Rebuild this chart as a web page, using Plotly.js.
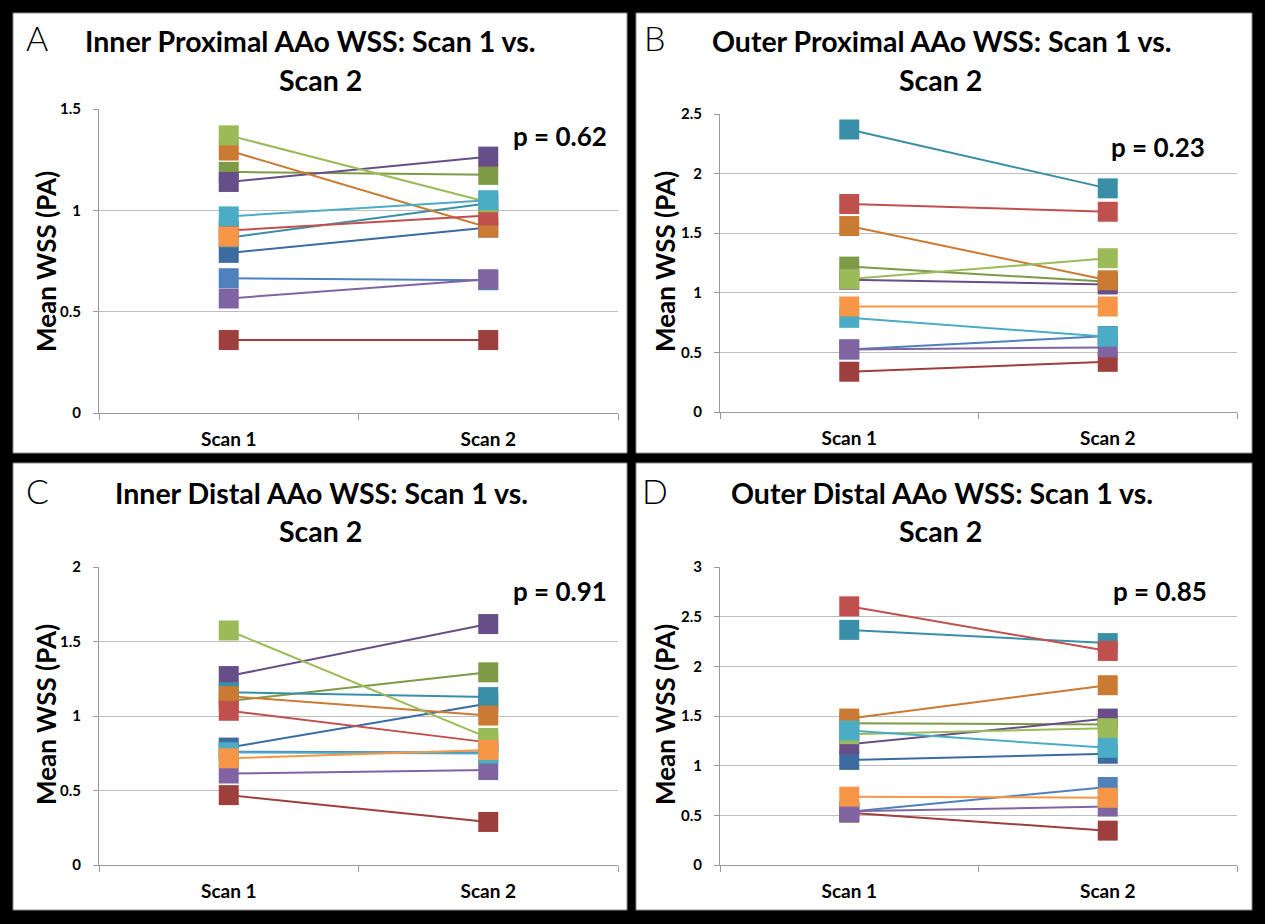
<!DOCTYPE html>
<html>
<head>
<meta charset="utf-8">
<script src="https://cdn.plot.ly/plotly-3.0.1.min.js"></script>
<style>
html,body{margin:0;padding:0;background:#000;}
#chart{width:1265px;height:924px;}
</style>
</head>
<body>
<div id="chart"></div>
<script>
// ---------- DATA ----------
const categories = ['Scan 1', 'Scan 2'];
const seriesNames = ['Series 1','Series 2','Series 3','Series 4','Series 5','Series 6',
                     'Series 7','Series 8','Series 9','Series 10','Series 11','Series 12'];

// Panel A: Inner Proximal AAo WSS
const innerProximalScan1 = [0.665, 0.90, 1.37, 0.565, 0.97, 0.87, 0.79, 0.36, 1.19, 1.14, 0.865, 1.295];
const innerProximalScan2 = [0.655, 0.975, 1.04, 0.66, 1.05, null, 0.915, 0.36, 1.175, 1.265, 1.035, 0.915];
// Panel B: Outer Proximal AAo WSS
const outerProximalScan1 = [0.525, 1.745, 1.115, 0.525, 0.79, 0.885, null, 0.338, 1.22, 1.11, 2.37, 1.56];
const outerProximalScan2 = [0.637, 1.68, 1.29, 0.542, 0.632, 0.885, null, 0.421, 1.093, 1.07, 1.876, 1.105];
// Panel C: Inner Distal AAo WSS
const innerDistalScan1 = [0.76, 1.035, 1.574, 0.614, 0.755, 0.716, 0.788, 0.469, 1.10, 1.268, 1.16, 1.133];
const innerDistalScan2 = [0.755, 0.823, 0.853, 0.637, 0.748, 0.772, 1.084, 0.289, 1.293, 1.617, 1.127, 1.003];
// Panel D: Outer Distal AAo WSS
const outerDistalScan1 = [0.537, 2.604, 1.317, 0.54, 1.353, 0.688, 1.058, 0.527, 1.427, 1.216, 2.367, 1.474];
const outerDistalScan2 = [0.785, 2.155, 1.377, 0.588, 1.18, 0.677, 1.12, 0.346, 1.414, 1.474, 2.234, 1.81];

const panelTitles = ['Inner Proximal AAo WSS: Scan 1 vs.', 'Outer Proximal AAo WSS: Scan 1 vs.',
                     'Inner Distal AAo WSS: Scan 1 vs.', 'Outer Distal AAo WSS: Scan 1 vs.'];
const panelLetters = ['A', 'B', 'C', 'D'];
const pValues = ['p = 0.62', 'p = 0.23', 'p = 0.91', 'p = 0.85'];
const yTickVals = [[0, 0.5, 1, 1.5], [0, 0.5, 1, 1.5, 2, 2.5], [0, 0.5, 1, 1.5, 2], [0, 0.5, 1, 1.5, 2, 2.5, 3]];
const yMax = [1.5, 2.5, 2, 3];

// ---------- STYLE ----------
const seriesColors = ['#4F81BD','#C0504D','#9BBB59','#8064A2','#4BACC6','#F79646',
                      '#3C6BA0','#9D3F3C','#7E9A47','#684E88','#398FA8','#CB7A34'];
const drawOrder = [6,7,8,9,10,11,0,1,2,3,4,5];
const FONT = 'Lato, "Open Sans", sans-serif';
const W = 1265, H = 924;
const px = x => x / W;
const py = y => 1 - y / H;

const panels = [
  {s1: innerProximalScan1, s2: innerProximalScan2, box: [13, 13, 627, 453], plot: [99, 109, 618, 413]},
  {s1: outerProximalScan1, s2: outerProximalScan2, box: [636, 13, 1252, 453], plot: [720, 114, 1237, 412]},
  {s1: innerDistalScan1, s2: innerDistalScan2, box: [13, 463, 627, 910], plot: [99, 567, 618, 865]},
  {s1: outerDistalScan1, s2: outerDistalScan2, box: [636, 463, 1252, 910], plot: [720, 567, 1237, 865]}
];
const titlePos = [[310, 41, 320, 80], [942, 41, 940, 80], [322, 493, 320, 531], [942, 493, 940, 531]];
const letterPos = [[37, 38], [655, 38], [37, 490], [655, 490]];
const pPos = [[560, 136], [1158, 147], [560, 591], [1160, 591]];
const yTitlePos = [[46, 262], [665, 262], [46, 715], [665, 715]];

const traces = [];
const layout = {
  width: W, height: H,
  margin: {l: 0, r: 0, t: 0, b: 0},
  paper_bgcolor: '#000000',
  plot_bgcolor: '#ffffff',
  showlegend: false,
  shapes: [], annotations: []
};

panels.forEach((p, i) => {
  const n = i + 1;
  const xa = n === 1 ? 'x' : 'x' + n;
  const ya = n === 1 ? 'y' : 'y' + n;
  drawOrder.forEach(k => {
    traces.push({
      type: 'scatter', mode: 'lines+markers',
      x: categories, y: [p.s1[k], p.s2[k]],
      name: seriesNames[k],
      xaxis: xa, yaxis: ya,
      line: {color: seriesColors[k], width: 2},
      marker: {symbol: 'square', size: 20, color: seriesColors[k], line: {width: 0}},
      hoverinfo: 'x+y+name'
    });
  });
  const xkey = n === 1 ? 'xaxis' : 'xaxis' + n;
  const ykey = n === 1 ? 'yaxis' : 'yaxis' + n;
  layout[xkey] = {
    domain: [px(p.plot[0]), px(p.plot[2])],
    anchor: ya, type: 'category', range: [-0.5, 1.5],
    tickson: 'boundaries', ticks: 'outside', ticklen: 6, tickcolor: '#9a9a9a',
    showline: true, linecolor: '#9a9a9a', linewidth: 1, showgrid: false, zeroline: false,
    ticklabelstandoff: 9,
    tickfont: {family: FONT, size: 19, color: '#000', weight: 'bold'}
  };
  layout[ykey] = {
    domain: [py(p.plot[3]), py(p.plot[1])],
    anchor: xa, range: [0, yMax[i]],
    tickvals: yTickVals[i], ticktext: yTickVals[i].map(v => String(v)),
    ticks: 'outside', ticklen: 5, tickcolor: '#9a9a9a',
    showline: true, linecolor: '#9a9a9a', linewidth: 1,
    showgrid: true, gridcolor: '#BDBDBD', gridwidth: 1, zeroline: false,
    ticklabelstandoff: 9,
    tickfont: {family: FONT, size: 15, color: '#000', weight: 'bold'}
  };
  layout.shapes.push({
    type: 'rect', xref: 'paper', yref: 'paper', layer: 'below',
    x0: px(p.box[0]), x1: px(p.box[2]), y0: py(p.box[3]), y1: py(p.box[1]),
    fillcolor: '#ffffff', line: {color: '#8c8c8c', width: 1}
  });
  const tp = titlePos[i];
  layout.annotations.push({
    xref: 'paper', yref: 'paper', x: px(tp[0]), y: py(tp[1]), xanchor: 'center', yanchor: 'middle',
    text: panelTitles[i], showarrow: false,
    font: {family: FONT, size: 28.5, color: '#000', weight: 'bold'}
  });
  layout.annotations.push({
    xref: 'paper', yref: 'paper', x: px(tp[2]), y: py(tp[3]), xanchor: 'center', yanchor: 'middle',
    text: categories[1], showarrow: false,
    font: {family: FONT, size: 28.5, color: '#000', weight: 'bold'}
  });
  layout.annotations.push({
    xref: 'paper', yref: 'paper', x: px(letterPos[i][0]), y: py(letterPos[i][1]), xanchor: 'center', yanchor: 'middle',
    text: panelLetters[i], showarrow: false,
    font: {family: FONT, size: 34, color: '#000', weight: 300}
  });
  layout.annotations.push({
    xref: 'paper', yref: 'paper', x: px(pPos[i][0]), y: py(pPos[i][1]), xanchor: 'center', yanchor: 'middle',
    text: pValues[i], showarrow: false,
    font: {family: FONT, size: 26, color: '#000', weight: 'bold'}
  });
  layout.annotations.push({
    xref: 'paper', yref: 'paper', x: px(yTitlePos[i][0]), y: py(yTitlePos[i][1]), xanchor: 'center', yanchor: 'middle',
    text: 'Mean WSS (PA)', showarrow: false, textangle: -90,
    font: {family: FONT, size: 26, color: '#000', weight: 'bold'}
  });
});

Plotly.newPlot('chart', traces, layout, {displayModeBar: false, staticPlot: true});
</script>
</body>
</html>
